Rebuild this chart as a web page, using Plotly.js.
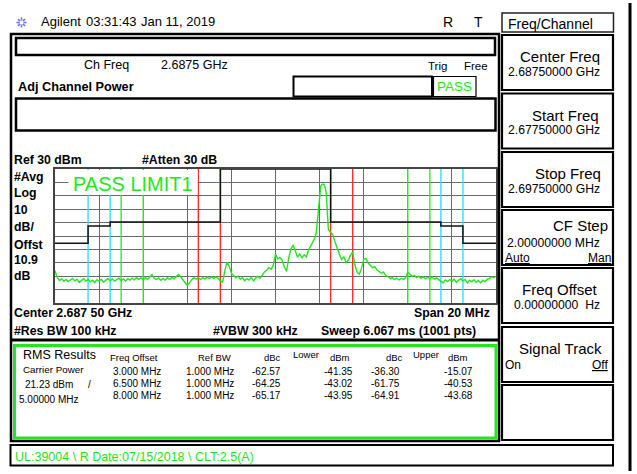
<!DOCTYPE html>
<html><head><meta charset="utf-8">
<script src="https://cdn.plot.ly/plotly-3.0.1.min.js"></script>
<style>html,body{margin:0;padding:0;background:#fff;}#chart{width:637px;height:474px;}</style>
</head><body><div id="chart"></div>
<script>
const centerFreqMHz = 2687.5;
const spanMHz = 20;
const refLevelDbm = 30;
const dbPerDiv = 10;
const numDivs = 10;

const traceOffsetMHz = [
 -10.0,-9.9,-9.8,-9.7,-9.6,-9.5,-9.4,-9.3,-9.2,-9.1,
 -9.0,-8.9,-8.8,-8.7,-8.6,-8.5,-8.4,-8.3,-8.2,-8.1,
 -8.0,-7.9,-7.8,-7.7,-7.6,-7.5,-7.4,-7.3,-7.2,-7.1,
 -7.0,-6.9,-6.8,-6.7,-6.6,-6.5,-6.4,-6.3,-6.2,-6.1,
 -6.0,-5.9,-5.8,-5.7,-5.6,-5.5,-5.4,-5.3,-5.2,-5.1,
 -5.0,-4.9,-4.8,-4.7,-4.6,-4.5,-4.4,-4.3,-4.2,-4.1,
 -4.0,-3.9,-3.8,-3.7,-3.6,-3.5,-3.4,-3.3,-3.2,-3.1,
 -3.0,-2.9,-2.8,-2.7,-2.6,-2.5,-2.4,-2.3,-2.2,-2.1,
 -2.0,-1.9,-1.8,-1.7,-1.6,-1.5,-1.4,-1.3,-1.2,-1.1,
 -1.0,-0.9,-0.8,-0.7,-0.6,-0.5,-0.4,-0.3,-0.2,-0.1,
 0.0,0.1,0.2,0.3,0.4,0.5,0.6,0.7,0.8,0.9,
 1.0,1.1,1.2,1.3,1.4,1.5,1.6,1.7,1.8,
 1.85,1.9,1.95,2.0,2.05,2.1,2.15,2.2,2.25,2.3,2.35,2.4,
 2.5,2.6,2.7,2.8,2.9,3.0,3.1,3.2,3.3,3.4,
 3.5,3.6,3.7,3.8,3.9,4.0,4.1,4.2,4.3,4.4,
 4.5,4.6,4.7,4.8,4.9,5.0,5.1,5.2,5.3,5.4,
 5.5,5.6,5.7,5.8,5.9,6.0,6.1,6.2,6.3,6.4,
 6.5,6.6,6.7,6.8,6.9,7.0,7.1,7.2,7.3,7.4,
 7.5,7.6,7.7,7.8,7.9,8.0,8.1,8.2,8.3,8.4,
 8.5,8.6,8.7,8.8,8.9,9.0,9.1,9.2,9.3,9.4,
 9.5,9.6,9.7,9.8,9.9,10.0
];
const traceLevelDbm = [
 -46.0,-51.0,-53.2,-52.0,-53.8,-52.4,-54.0,-52.8,-51.6,-53.5,
 -52.2,-54.6,-52.9,-51.8,-53.6,-52.5,-54.2,-53.0,-54.8,-52.6,
 -53.9,-52.3,-54.4,-53.1,-51.9,-53.4,-52.0,-53.7,-52.4,-51.5,
 -53.2,-52.1,-53.6,-51.8,-52.9,-51.4,-52.7,-50.9,-52.3,-51.2,
 -52.8,-51.0,-52.4,-50.6,-48.8,-51.5,-52.6,-51.3,-53.0,-51.7,
 -52.9,-51.2,-52.5,-50.8,-51.9,-50.2,-48.7,-50.6,-52.4,-54.5,
 -56.8,-55.0,-52.6,-51.3,-52.2,-51.0,-52.5,-51.2,-52.0,-50.7,
 -51.8,-50.5,-51.6,-50.3,-51.9,-52.8,-54.6,-46.0,-39.5,-42.5,
 -47.8,-49.5,-51.2,-50.0,-52.3,-51.0,-53.4,-51.8,-52.9,-50.8,
 -53.6,-51.4,-50.2,-51.5,-49.2,-46.8,-45.6,-43.5,-44.8,-41.8,
 -33.5,-37.0,-36.0,-38.2,-43.0,-46.5,-36.5,-29.5,-26.8,-31.5,
 -35.8,-33.4,-36.2,-34.0,-35.6,-30.5,-27.2,-24.8,-21.0,
 -17.5,-8.0,4.0,14.0,17.2,18.2,18.8,18.4,16.5,12.0,-3.0,-15.5,
 -17.2,-19.0,-24.5,-30.0,-33.8,-37.5,-35.4,-39.8,-38.0,-34.5,
 -32.0,-41.5,-47.0,-48.6,-44.0,-37.5,-36.8,-40.2,-42.0,-43.6,
 -42.8,-45.2,-46.5,-47.8,-46.9,-49.5,-50.3,-51.8,-51.0,-52.6,
 -51.5,-52.8,-51.7,-52.4,-51.2,-47.0,-48.5,-50.2,-49.4,-51.0,
 -50.0,-51.6,-50.5,-52.0,-50.8,-51.9,-50.6,-52.2,-51.3,-52.5,
 -53.6,-55.0,-52.8,-54.0,-52.5,-53.8,-52.2,-54.5,-53.0,-51.8,
 -53.6,-52.4,-54.9,-53.1,-54.2,-52.6,-54.6,-53.2,-54.8,-53.0,
 -54.0,-52.4,-51.6,-50.4,-51.2,-50.0
];

const limitOffsetMHz = [-10, -8.5, -7.5, -2.5, 2.5, 7.5, 8.5, 10];
const limitLevelDbm  = [-25.4, -12.5, -9.5, 30, -9.5, -12.5, -25.4, -25.4];

const adjOffsetMHz = [3.0, 6.5, 8.0];
const adjRefBwMHz  = [1.0, 1.0, 1.0];
const lowerDbc = [-62.57, -64.25, -65.17];
const lowerDbm = [-41.35, -43.02, -43.95];
const upperDbc = [-36.30, -61.75, -64.91];
const upperDbm = [-15.07, -40.53, -43.68];
const carrierPowerDbm = 21.23;
const carrierBwMHz = 5.0;

const softkeyTitles = ['Center Freq', 'Start Freq', 'Stop Freq', 'CF Step', 'Freq Offset', 'Signal Track', ''];
const softkeyValues = ['2.68750000 GHz', '2.67750000 GHz', '2.69750000 GHz', '2.00000000 MHz', '0.00000000\u00a0\u00a0Hz', '', ''];

// ---------- helpers (page pixel -> paper) ----------
const W = 637, H = 474;
const FONT = '"Liberation Sans", Arial, sans-serif';
const X = px => px / W;
const Y = py => 1 - py / H;
const annotations = [];
const shapes = [];
function txt(s, px, py, size, o) {
  o = o || {};
  annotations.push({
    text: s, x: X(px), y: Y(py), xref: 'paper', yref: 'paper',
    xanchor: o.anchor || 'left', yanchor: 'middle', showarrow: false, borderpad: 0,
    font: {family: FONT, size: size, color: o.color || '#000', weight: o.bold ? 'bold' : 'normal'}
  });
}
function rect(x0, y0, x1, y1, w, color, fill) {
  shapes.push({type: 'rect', xref: 'paper', yref: 'paper', x0: X(x0), x1: X(x1), y0: Y(y1), y1: Y(y0),
    line: {color: color || '#000', width: w}, fillcolor: fill || 'rgba(0,0,0,0)', layer: 'above'});
}
function seg(x0, y0, x1, y1, w, color, dash) {
  shapes.push({type: 'line', xref: 'paper', yref: 'paper', x0: X(x0), x1: X(x1), y0: Y(y0), y1: Y(y1),
    line: {color: color || '#000', width: w, dash: dash || 'solid'}, layer: 'above'});
}

// ---------- chrome ----------
// logo (starburst)
for (let a = 0; a < 8; a++) {
  const t = a * Math.PI / 4, c = Math.cos(t), s = Math.sin(t);
  seg(21.5 + 2 * c, 22.5 + 2 * s, 21.5 + 7.5 * c, 22.5 + 7.5 * s, 1.6, '#7070f0', 'dot');
}
txt('Agilent', 40, 22, 13);
txt('03:31:43', 85, 22, 13);
txt('Jan 11, 2019', 140, 22, 13);
txt('R', 448, 22, 14, {anchor: 'center'});
txt('T', 478, 22, 14, {anchor: 'center'});

rect(11, 34, 499, 441, 2.5);
seg(11, 340, 499, 340, 3);
rect(16, 38, 495, 55, 2.5);
rect(16, 98.5, 495.5, 130.5, 2.5);
rect(293.5, 76.5, 432, 96.5, 2);
rect(433.5, 76.5, 476, 96.5, 1.2);
rect(14.5, 345.5, 496, 438, 3, '#22e622');
rect(10.5, 445, 613, 465.5, 2);
seg(630, 3, 630, 471, 3);

txt('Ch Freq', 83, 65, 12.5);
txt('2.6875 GHz', 160, 65, 12.5);
txt('Trig', 427, 65.5, 11.5);
txt('Free', 463, 65.5, 11.5);
txt('Adj Channel Power', 16.5, 87, 12.7, {bold: true});
txt('PASS', 454.7, 87, 13.5, {anchor: 'center', color: '#22e622'});

txt('Ref 30 dBm', 13, 160, 12.3, {bold: true});
txt('#Atten 30 dB', 141, 160, 12.3, {bold: true});
const sideLabels = ['#Avg', 'Log', '10', 'dB/', 'Offst', '10.9', 'dB'];
const sideY = [176.7, 193.3, 210, 226.7, 245, 260, 275.5];
sideLabels.forEach((s, i) => txt(s, 13, sideY[i], 12.3, {bold: true}));
txt('Center 2.687 50 GHz', 13, 312.7, 12.3, {bold: true});
txt('Span 20 MHz', 491, 312.7, 12.3, {bold: true, anchor: 'right'});
txt('#Res BW 100 kHz', 13, 331, 12.3, {bold: true});
txt('#VBW 300 kHz', 211.5, 331, 12.3, {bold: true});
txt('Sweep 6.067 ms (1001 pts)', 320, 331, 12.3, {bold: true});

rect(68.5, 170, 197.5, 194.8, 0, 'rgba(0,0,0,0)', '#ffffff');
txt('PASS LIMIT1', 72, 183.5, 20, {color: '#22e622'});

// results
txt('RMS Results', 21.5, 355, 12.5);
txt('Carrier Power', 21.5, 369.3, 9.8);
txt(carrierPowerDbm.toFixed(2) + ' dBm', 24, 384, 10);
txt('/', 87, 384, 10);
txt(carrierBwMHz.toFixed(5) + ' MHz', 18, 399.3, 10);
txt('Freq Offset', 109, 357.3, 9.5);
txt('Ref BW', 197.5, 357.3, 9.5);
txt('dBc', 263, 357.3, 9.5);
txt('Lower', 291.5, 354, 9.5);
txt('dBm', 329, 357.3, 9.5);
txt('dBc', 385, 357.3, 9.5);
txt('Upper', 411.5, 354, 9.5);
txt('dBm', 447, 357.3, 9.5);
const rowY = [371, 383.3, 395.7];
adjOffsetMHz.forEach((o, i) => {
  txt(o.toFixed(3) + ' MHz', 162.3, rowY[i], 10, {anchor: 'right'});
  txt(adjRefBwMHz[i].toFixed(3) + ' MHz', 235, rowY[i], 10, {anchor: 'right'});
  txt(lowerDbc[i].toFixed(2), 282.3, rowY[i], 10, {anchor: 'right'});
  txt(lowerDbm[i].toFixed(2), 354.3, rowY[i], 10, {anchor: 'right'});
  txt(upperDbc[i].toFixed(2), 401, rowY[i], 10, {anchor: 'right'});
  txt(upperDbm[i].toFixed(2), 474, rowY[i], 10, {anchor: 'right'});
});
txt('UL:39004 \\ R Date:07/15/2018 \\ CLT:2.5(A)', 14, 456.5, 12.5, {color: '#22e622'});

// softkeys
rect(502, 13, 613.5, 32, 1.5, '#222');
txt('Freq/Channel', 506.5, 23.5, 14);
const keyTop = [35, 93.5, 152, 210, 268, 327, 385];
const titleRight = [601, 600, 602, 609, 599, 603, 0];
keyTop.forEach((t, i) => {
  rect(502, t, 613, t + 55, 2.2);
  if (softkeyTitles[i]) {
    const ty = i === 3 ? t + 16 : t + 21.5;
    txt(softkeyTitles[i], titleRight[i], ty, 15, {anchor: 'right'});
  }
  if (softkeyValues[i]) {
    const vy = i === 3 ? t + 32.5 : t + 36.5;
    txt(softkeyValues[i], 601, vy, 12.2, {anchor: 'right'});
  }
});
txt('<u>Auto</u>', 504, keyTop[3] + 47.5, 12);
txt('<u>Man</u>', 612, keyTop[3] + 47.5, 12, {anchor: 'right'});
txt('On', 504, keyTop[5] + 37.5, 12);
txt('<u>Off</u>', 609, keyTop[5] + 37.5, 12, {anchor: 'right'});

// ---------- chart traces ----------
const bottomDbm = refLevelDbm - dbPerDiv * numDivs;
const markerColors = ['#ff2d2d', '#33e833', '#33dcff'];
const traces = [];
adjOffsetMHz.forEach((o, i) => {
  const edges = [-o - adjRefBwMHz[i] / 2, -o + adjRefBwMHz[i] / 2, o - adjRefBwMHz[i] / 2, o + adjRefBwMHz[i] / 2];
  const xs = [], ys = [];
  edges.forEach(e => { xs.push(centerFreqMHz + e, centerFreqMHz + e, null); ys.push(bottomDbm, refLevelDbm, null); });
  traces.push({x: xs, y: ys, type: 'scatter', mode: 'lines', line: {color: markerColors[i], width: 1.4},
    hoverinfo: 'skip', showlegend: false, connectgaps: false});
});
traces.push({x: limitOffsetMHz.map(o => centerFreqMHz + o), y: limitLevelDbm, type: 'scatter', mode: 'lines',
  line: {color: '#111', width: 1.5, shape: 'hv'}, hoverinfo: 'skip', showlegend: false, cliponaxis: false});
traces.push({x: traceOffsetMHz.map(o => centerFreqMHz + o), y: traceLevelDbm, type: 'scatter', mode: 'lines',
  line: {color: '#1fe61f', width: 1.4}, hoverinfo: 'skip', showlegend: false});

const layout = {
  width: W, height: H, margin: {l: 0, r: 0, t: 0, b: 0, pad: 0},
  paper_bgcolor: '#ffffff', plot_bgcolor: 'rgba(0,0,0,0)', showlegend: false,
  xaxis: {domain: [55 / W, 496 / W], range: [centerFreqMHz - spanMHz / 2, centerFreqMHz + spanMHz / 2],
    tick0: centerFreqMHz - spanMHz / 2, dtick: spanMHz / numDivs, showticklabels: false, ticks: '',
    showgrid: true, gridcolor: '#6a6a6a', gridwidth: 1, zeroline: false,
    showline: true, mirror: true, linecolor: '#444', linewidth: 2, fixedrange: true},
  yaxis: {domain: [(H - 303) / H, (H - 169) / H], range: [bottomDbm, refLevelDbm],
    tick0: bottomDbm, dtick: dbPerDiv, showticklabels: false, ticks: '',
    showgrid: true, gridcolor: '#6a6a6a', gridwidth: 1, zeroline: false,
    showline: true, mirror: true, linecolor: '#444', linewidth: 2, fixedrange: true},
  shapes: shapes, annotations: annotations
};
Plotly.newPlot('chart', traces, layout, {staticPlot: true, displayModeBar: false});
</script></body></html>
